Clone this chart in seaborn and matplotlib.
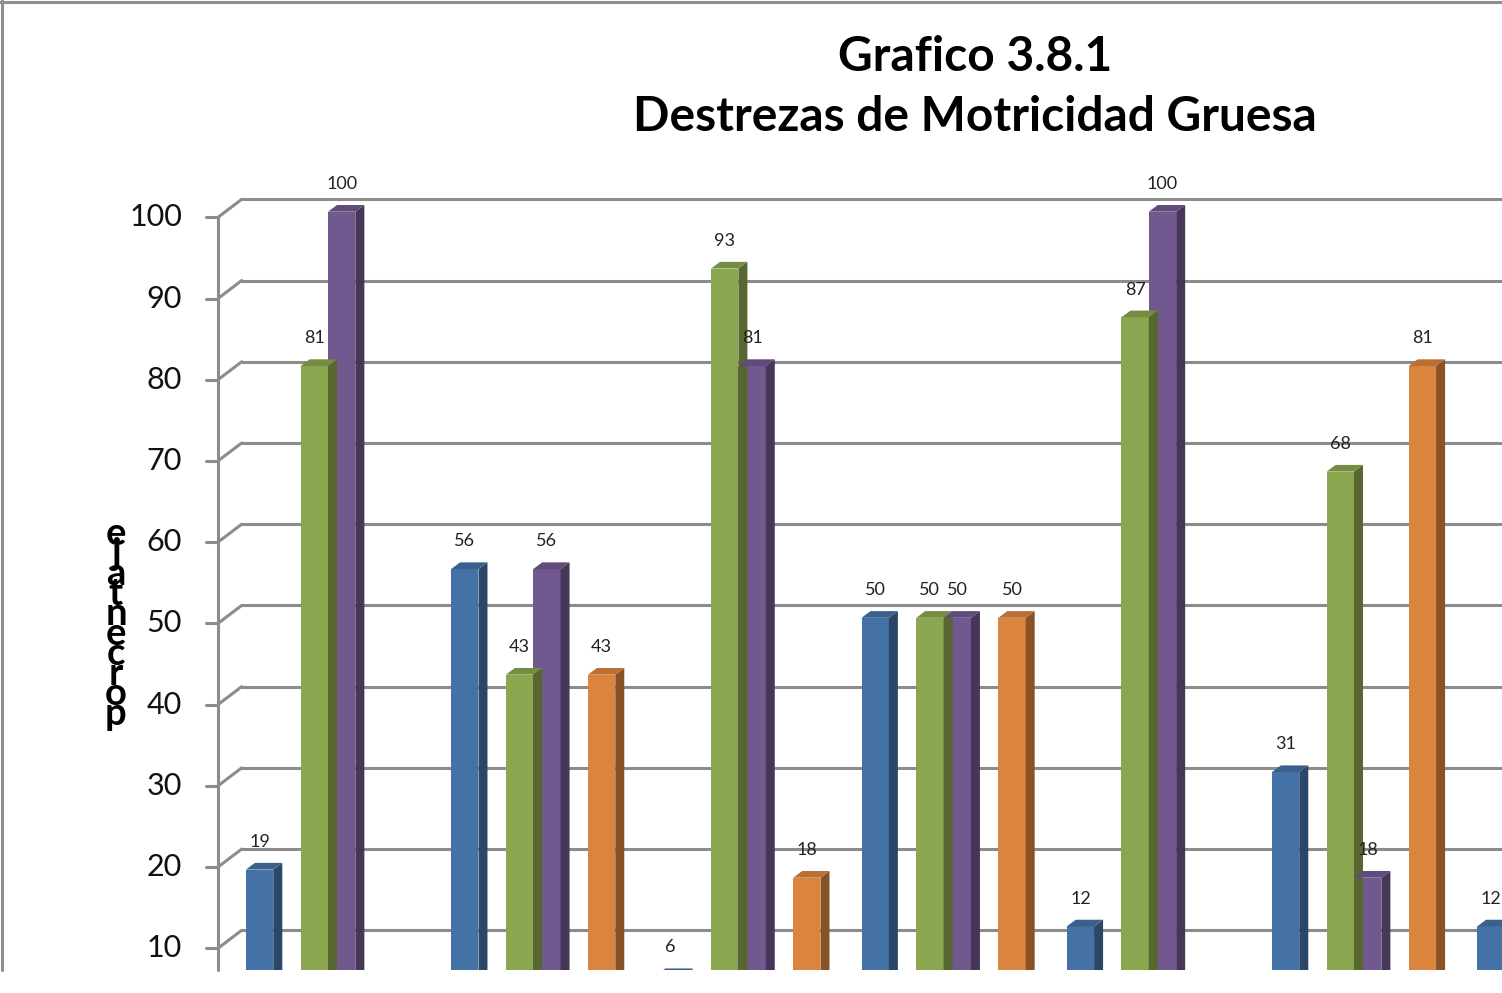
import numpy as np
import pandas as pd
import matplotlib
matplotlib.use("Agg")
import matplotlib.pyplot as plt
from matplotlib.patches import Polygon
from matplotlib.lines import Line2D
import matplotlib.colors as mcolors
import seaborn as sns

# --- data (last group is cut off at the right edge) ---
categorias = ["D1", "D2", "D3", "D4", "D5", "D6", "D7"]
series = ["Serie 1", "Serie 2", "Serie 3", "Serie 4", "Serie 5", "Serie 6"]
serie1 = [19, 56, 6, 50, 12, 31, 12]
serie2 = [0, 0, 0, 0, 0, 0, np.nan]
serie3 = [81, 43, 93, 50, 87, 68, np.nan]
serie4 = [100, 56, 81, 50, 100, 18, np.nan]
serie5 = [0, 0, 0, 0, 0, 0, np.nan]
serie6 = [0, 43, 18, 50, 0, 81, np.nan]
ticks = [10, 20, 30, 40, 50, 60, 70, 80, 90, 100]

colores = ["#4472A6", "#B04A47", "#8AA64E", "#71588F", "#4BACC6", "#DB843D"]

rows = []
for nombre, vals in zip(series, [serie1, serie2, serie3, serie4, serie5, serie6]):
    for cat, v in zip(categorias, vals):
        rows.append({"categoria": cat, "serie": nombre, "valor": v})
df = pd.DataFrame(rows)

sns.set_theme(style="white")
plt.rcParams["font.family"] = ["Lato", "DejaVu Sans"]

W_PX, H_PX = 1502, 993
fig = plt.figure(figsize=(W_PX / 100, H_PX / 100), dpi=100)

# axes = plane of the bar fronts
ax_left, ax_right, ax_top, ax_bot = 218, 1502, 150, 970
ax = fig.add_axes([ax_left / W_PX, 1 - ax_bot / H_PX,
                   (ax_right - ax_left) / W_PX, (ax_bot - ax_top) / H_PX])

sns.barplot(data=df, x="categoria", y="valor", hue="serie", palette=colores,
            width=0.8, saturation=1, legend=False, ax=ax, zorder=2,
            errorbar=None)

px_per_cat = 205.2
px_per_val = 8.122
x0 = -(328 - ax_left) / px_per_cat
x1 = x0 + (ax_right - ax_left) / px_per_cat
y_top_val = 100 + (211.7 - ax_top) / px_per_val
y0 = y_top_val - (ax_bot - ax_top) / px_per_val
ax.set_xlim(x0, x1)
ax.set_ylim(y0, y_top_val)
ax.set_axis_off()


def dx(px):
    return px / px_per_cat


def dy(px):
    return px / px_per_val


grid_col = "#8C8C8C"
lw = 2.2
front_off = dy(-5.6)   # front wall relative to bar plane
back_off = dy(12.4)    # back wall relative to bar plane
x_back = x0 + dx(23.7)

for v in ticks:
    yf, yb = v + front_off, v + back_off
    ax.add_line(Line2D([x_back, x1], [yb, yb], color=grid_col, lw=lw, zorder=0))
    ax.add_line(Line2D([x0, x_back], [yf, yb], color=grid_col, lw=lw, zorder=0))
    ax.add_line(Line2D([x0 - dx(12), x0], [yf, yf], color=grid_col, lw=lw,
                       zorder=0, clip_on=False))
    ax.text(x0 - dx(36), yf, str(v), ha="right", va="center", fontsize=22,
            color="#111111", clip_on=False)
ax.add_line(Line2D([x0, x0], [100 + front_off, y0], color=grid_col, lw=lw,
                   zorder=0, clip_on=False))

# 3-D look: side and top faces for each bar, plus value labels
depth_x, depth_y = dx(9), dy(6.7)
for p in ax.patches:
    h = p.get_height()
    if not np.isfinite(h) or h <= 0:
        continue
    xl = p.get_x()
    xr = xl + p.get_width()
    base = np.array(mcolors.to_rgb(p.get_facecolor()))
    p.set_edgecolor("none")
    side = Polygon([[xr, 0], [xr, h], [xr + depth_x, h + depth_y],
                    [xr + depth_x, depth_y]], closed=True,
                   facecolor=base * 0.62, edgecolor="none", zorder=2)
    top = Polygon([[xl, h], [xr, h], [xr + depth_x, h + depth_y],
                   [xl + depth_x, h + depth_y]], closed=True,
                  facecolor=base * 0.85, edgecolor="none", zorder=2)
    ax.add_patch(side)
    ax.add_patch(top)
    ax.text((xl + xr) / 2, h + dy(27.7), f"{h:.0f}", ha="center",
            va="center", fontsize=13, color="#222222", zorder=3)

# title
fig.text(975 / W_PX, 1 - 87 / H_PX, "Grafico 3.8.1\nDestrezas de Motricidad Gruesa",
         ha="center", va="center", fontsize=34.5, fontweight="bold",
         linespacing=1.42, color="black")

# y axis title rendered as stacked letters
fig.text(116 / W_PX, 1 - 624 / H_PX, "\n".join(reversed("porcentaje")),
         ha="center", va="center", fontsize=27.5, fontweight="bold",
         linespacing=0.5, color="black")

# chart border (top and left visible)
fig.add_artist(Line2D([0, 1], [1 - 1.5 / H_PX] * 2, transform=fig.transFigure,
                      color="#8F8F8F", lw=2.2))
fig.add_artist(Line2D([1.5 / W_PX] * 2, [1, 1 - 970 / H_PX],
                      transform=fig.transFigure, color="#8F8F8F", lw=2.2))

fig.savefig("out.png", dpi=100)
